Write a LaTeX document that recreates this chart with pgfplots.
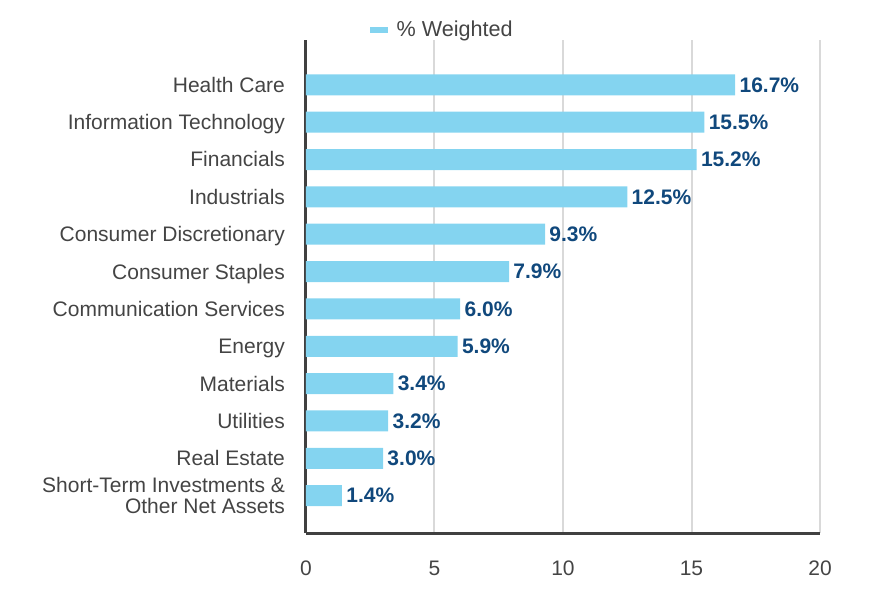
\documentclass[border=0pt]{standalone}
\usepackage{pgfplots}
\pgfplotsset{compat=1.18}
\usepackage{fontspec}
\setmainfont{Liberation Sans}
\definecolor{barblue}{RGB}{132,212,240}
\definecolor{axisgray}{RGB}{64,64,64}
\definecolor{gridgray}{RGB}{217,217,217}
\definecolor{textgray}{RGB}{68,68,68}
\definecolor{valblue}{RGB}{16,72,124}
\begin{document}
\begin{tikzpicture}
\path[use as bounding box] (-153pt,-33.5pt) rectangle (285pt,266.5pt);
\begin{axis}[
  at={(0,0)}, anchor=south west,
  scale only axis, width=257pt, height=246.5pt,
  xbar, bar width=10.5pt,
  xmin=0, xmax=20, ymin=-1, ymax=12.2,
  xtick={0,5,10,15,20},
  ytick={0,...,11},
  yticklabels={{Short-Term Investments \&\\\strut Other Net Assets},Real Estate,Utilities,Materials,Energy,Communication Services,Consumer Staples,Consumer Discretionary,Industrials,Financials,Information Technology,Health Care},
  axis lines*=left,
  axis line style={draw=axisgray, line width=1.5pt, -},
  major tick length=0pt,
  xmajorgrids,
  major grid style={gridgray, line width=1pt},
  tick label style={font=\fontsize{10.5}{10.5}\selectfont, text=textgray},
  yticklabel style={align=right, xshift=-7pt, yshift=-1.5pt, execute at begin node=\strut},
  xticklabel style={yshift=-10.5pt},
  /pgf/number format/assume math mode=true,
  clip=false,
  nodes near coords={\pgfmathprintnumber[fixed,precision=1,fixed zerofill]{\pgfplotspointmeta}\%},
  nodes near coords style={font=\fontsize{10.5}{12}\selectfont\bfseries, text=valblue, anchor=west, inner sep=2pt},
  legend style={at={(0.267,1.020)}, anchor=center, draw=none, fill=none, font=\fontsize{10.8}{12}\selectfont, text=textgray},
  legend image code/.code={\fill[barblue] (0pt,-1.6pt) rectangle (9pt,1.6pt);},
]
\addplot[fill=barblue, draw=none] coordinates {
(1.4,0) (3.0,1) (3.2,2) (3.4,3) (5.9,4) (6.0,5) (7.9,6) (9.3,7) (12.5,8) (15.2,9) (15.5,10) (16.7,11)
};
\addlegendentry{\hspace{2.5pt}\% Weighted}
\end{axis}
\end{tikzpicture}
\end{document}
